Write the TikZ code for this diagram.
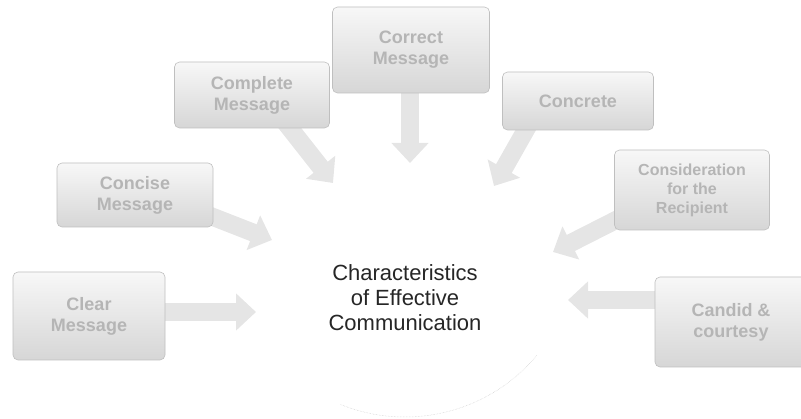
\documentclass[tikz,border=0pt]{standalone}
\usepackage{fontspec}
\setmainfont{Liberation Sans}
\usetikzlibrary{arrows.meta}
\begin{document}
\begin{tikzpicture}[x=1pt,y=-1pt,
  cbox/.style={draw=gray!50, line width=0.6pt, rounded corners=5pt,
    top color=gray!6, bottom color=gray!32, align=center, text=gray!58,
    font=\fontsize{18}{21}\selectfont\bfseries, inner sep=0pt},
  barrow/.style={line width=18pt, draw=gray!20,
    -{Triangle[length=20pt,width=36pt]}},
  ctext/.style={align=center, font=\fontsize{22}{25}\selectfont, text=black!85}
]
\useasboundingbox (0,0) rectangle (801,419);
% faint circle arc
\draw[gray!40, densely dotted, line width=0.5pt] (405,245) ++(40:172) arc[start angle=40, end angle=112, radius=172];

% arrows (drawn first, under boxes)
\coordinate (t1) at (256,312);
\coordinate (t2) at (272,240);
\coordinate (t3) at (333,183);
\coordinate (t4) at (410,163);
\coordinate (t5) at (494,186);
\coordinate (t6) at (553,252);
\coordinate (t7) at (568,300);
\coordinate (s1) at (160,312);
\coordinate (s2) at (208,215);
\coordinate (s3) at (285,122);
\coordinate (s4) at (410,90);
\coordinate (s5) at (528,126);
\coordinate (s6) at (620,218);
\coordinate (s7) at (660,300);
\draw[barrow] (s1) -- (t1);
\draw[barrow] (s2) -- (t2);
\draw[barrow] (s3) -- (t3);
\draw[barrow] (s4) -- (t4);
\draw[barrow] (s5) -- (t5);
\draw[barrow] (s6) -- (t6);
\draw[barrow] (s7) -- (t7);

% boxes
\node[cbox, minimum width=152pt, minimum height=88pt] (b1) at (89,316) {Clear\\Message};
\node[cbox, minimum width=156pt, minimum height=64pt] (b2) at (135,195) {Concise\\Message};
\node[cbox, minimum width=155pt, minimum height=66pt] (b3) at (252,95) {Complete\\Message};
\node[cbox, minimum width=157pt, minimum height=86pt] (b4) at (411,50) {Correct\\Message};
\node[cbox, minimum width=151pt, minimum height=58pt] (b5) at (578,101) {Concrete};
\node[cbox, minimum width=155pt, minimum height=80pt, font=\fontsize{16}{19}\selectfont\bfseries] (b6) at (692,190) {Consideration\\for the\\Recipient};
\node[cbox, minimum width=152pt, minimum height=90pt] (b7) at (731,322) {Candid \&\\courtesy};

% centre
\node[ctext] (c) at (405,298) {Characteristics\\of Effective\\Communication};
\end{tikzpicture}
\end{document}
